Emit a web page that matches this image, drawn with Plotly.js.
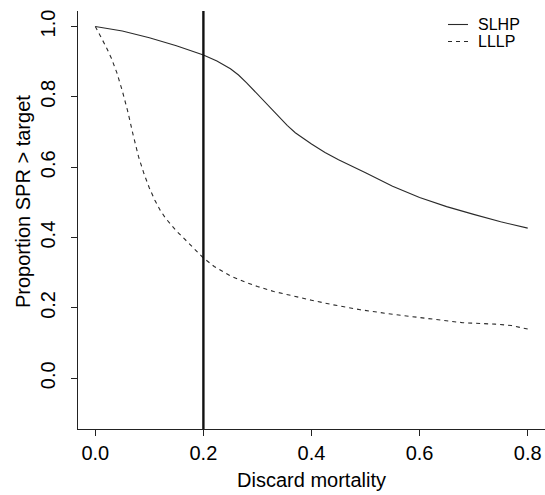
<!DOCTYPE html>
<html>
<head>
<meta charset="utf-8">
<script src="https://cdn.plot.ly/plotly-3.0.1.min.js"></script>
<style>
  html, body { margin: 0; padding: 0; background: #ffffff; }
  #chart { width: 545px; height: 495px; }
</style>
</head>
<body>
<div id="chart"></div>
<script>
// Discard mortality values (x) and proportion SPR > target (y)
var slhpX = [0, 0.05, 0.1, 0.15, 0.2, 0.225, 0.25, 0.265, 0.28, 0.295, 0.31, 0.325, 0.34, 0.355, 0.37, 0.385, 0.4, 0.425, 0.45, 0.5, 0.55, 0.6, 0.65, 0.7, 0.75, 0.8];
var slhpY = [1.0, 0.987, 0.968, 0.945, 0.919, 0.902, 0.880, 0.862, 0.840, 0.816, 0.792, 0.766, 0.742, 0.719, 0.698, 0.681, 0.666, 0.642, 0.621, 0.584, 0.546, 0.514, 0.488, 0.466, 0.445, 0.427];

var lllpX = [0, 0.01, 0.02, 0.03, 0.04, 0.05, 0.06, 0.07, 0.08, 0.09, 0.1, 0.11, 0.12, 0.13, 0.14, 0.15, 0.16, 0.18, 0.2, 0.22, 0.25, 0.28, 0.3, 0.33, 0.36, 0.4, 0.44, 0.49, 0.55, 0.6, 0.63, 0.68, 0.74, 0.77, 0.8];
var lllpY = [1.0, 0.972, 0.942, 0.909, 0.868, 0.817, 0.759, 0.692, 0.630, 0.582, 0.541, 0.507, 0.478, 0.455, 0.436, 0.419, 0.404, 0.372, 0.342, 0.318, 0.291, 0.272, 0.261, 0.247, 0.236, 0.222, 0.209, 0.195, 0.182, 0.173, 0.166, 0.158, 0.154, 0.150, 0.140];

var seriesNames = ["SLHP", "LLLP"];
var seriesDash = ["solid", "4px,4px"];
var referenceMortality = 0.2;

var xTicks = [0, 0.2, 0.4, 0.6, 0.8];
var xTickLabels = ["0.0", "0.2", "0.4", "0.6", "0.8"];
var yTicks = [0, 0.2, 0.4, 0.6, 0.8, 1.0];
var yTickLabels = ["0.0", "0.2", "0.4", "0.6", "0.8", "1.0"];

var FONT = "Liberation Sans, Arial, Helvetica, sans-serif";
var INK = "#222222";
var CURVE = "#2a2a2a";

var traces = [
  {
    x: slhpX, y: slhpY, name: seriesNames[0], type: "scatter", mode: "lines",
    line: { color: CURVE, width: 1.1, dash: seriesDash[0] }
  },
  {
    x: lllpX, y: lllpY, name: seriesNames[1], type: "scatter", mode: "lines",
    line: { color: CURVE, width: 1.1, dash: seriesDash[1] }
  }
];

// Manual legend (R-style, top right inside plot)
var legendRows = [0.9677, 0.9271];
var legendShapes = [];
var legendNotes = [];
for (var i = 0; i < seriesNames.length; i++) {
  legendShapes.push({
    type: "line", xref: "paper", yref: "paper",
    x0: 0.7923, x1: 0.8351, y0: legendRows[i], y1: legendRows[i],
    line: { color: CURVE, width: 1.1, dash: seriesDash[i] }
  });
  legendNotes.push({
    text: seriesNames[i], xref: "paper", yref: "paper",
    x: 0.8545, y: legendRows[i], xanchor: "left", yanchor: "middle",
    showarrow: false, borderpad: 0,
    font: { family: FONT, size: 16, color: "#000000" }
  });
}

var layout = {
  width: 545, height: 495,
  margin: { l: 78, r: 0, t: 11, b: 66, pad: 0 },
  paper_bgcolor: "#ffffff", plot_bgcolor: "#ffffff",
  font: { family: FONT, size: 20, color: "#000000" },
  showlegend: false,
  xaxis: {
    range: [-0.032, 0.832], tickmode: "array", tickvals: xTicks, ticktext: xTickLabels,
    showgrid: false, zeroline: false, showline: true, linecolor: INK, linewidth: 1.2,
    ticks: "outside", ticklen: 6, tickwidth: 1, tickcolor: INK,
    tickfont: { family: FONT, size: 20, color: "#000000" },
    title: { text: "Discard mortality", font: { family: FONT, size: 20, color: "#000000" }, standoff: 9 },
    mirror: false, fixedrange: true
  },
  yaxis: {
    range: [-0.144, 1.044], tickmode: "array", tickvals: yTicks, ticktext: yTickLabels,
    showgrid: false, zeroline: false, showline: true, linecolor: INK, linewidth: 1.2,
    ticks: "outside", ticklen: 6, tickwidth: 1, tickcolor: INK, tickangle: -90,
    tickfont: { family: FONT, size: 20, color: "#000000" },
    ticklabelstandoff: 8,
    mirror: false, fixedrange: true
  },
  shapes: [
    {
      type: "line", xref: "x", yref: "paper",
      x0: referenceMortality, x1: referenceMortality, y0: 0, y1: 1,
      line: { color: "#111111", width: 2.4 }
    }
  ].concat(legendShapes),
  annotations: [
    {
      text: "Proportion SPR > target", xref: "paper", yref: "paper",
      x: -0.118, y: 0.545, xanchor: "center", yanchor: "middle",
      textangle: -90, showarrow: false,
      font: { family: FONT, size: 20, color: "#000000" }
    }
  ].concat(legendNotes)
};

Plotly.newPlot("chart", traces, layout, { displayModeBar: false, staticPlot: true });
</script>
</body>
</html>
